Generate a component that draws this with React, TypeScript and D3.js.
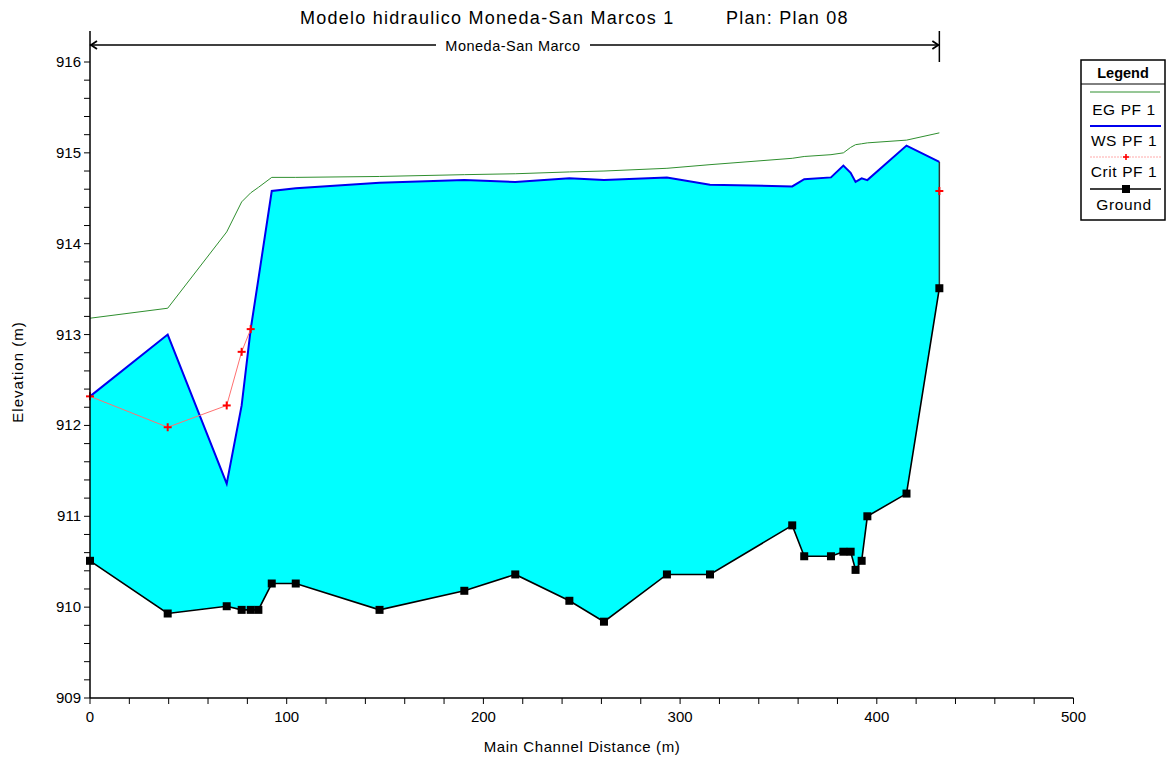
import React from "react";
import * as d3 from "d3";

// ---------- data ----------
const stations = [0, 39.5, 69.5, 77.1, 81.7, 85.6, 92.4, 104.6, 147.2, 190.3, 216.2, 243.7, 261.3, 293.3, 315.2, 357.0, 363.1, 376.7, 383.0, 386.7, 389.2, 392.3, 395.2, 415.1, 431.8];
const ground = [910.51, 909.93, 910.01, 909.97, 909.97, 909.97, 910.26, 910.26, 909.97, 910.18, 910.36, 910.07, 909.84, 910.36, 910.36, 910.90, 910.56, 910.56, 910.61, 910.61, 910.41, 910.51, 911.0, 911.25, 913.51];
const wsPF1 = [912.32, 913.0, 911.36, 912.22, 913.06, 913.61, 914.58, 914.61, 914.67, 914.70, 914.68, 914.72, 914.70, 914.73, 914.65, 914.63, 914.71, 914.73, 914.86, 914.78, 914.68, 914.72, 914.70, 915.08, 914.90];
const egPF1 = [913.18, 913.29, 914.13, 914.46, 914.56, 914.62, 914.73, 914.73, 914.74, 914.76, 914.77, 914.79, 914.80, 914.83, 914.87, 914.94, 914.96, 914.98, 915.0, 915.06, 915.09, 915.10, 915.11, 915.14, 915.22];
const critPF1: (number | null)[] = [912.32, 911.98, 912.22, 912.81, 913.06, null, null, null, null, null, null, null, null, null, null, null, null, null, null, null, null, null, null, null, 914.58];

const xTicks = [0, 100, 200, 300, 400, 500];
const yTicks = [909, 910, 911, 912, 913, 914, 915, 916];
const titleMain = "Modelo hidraulico Moneda-San Marcos 1";
const titlePlan = "Plan: Plan 08";
const reachName = "Moneda-San Marco";
const xLabel = "Main Channel Distance (m)";
const yLabel = "Elevation (m)";
const legendItems = ["EG PF 1", "WS PF 1", "Crit PF 1", "Ground"];

const W = 1166, H = 758;
const FONT = "'Liberation Sans', Arial, sans-serif";

export default function App() {
  const x = d3.scaleLinear().domain([0, 500]).range([90, 1073.5]);
  const y = d3.scaleLinear().domain([909, 916]).range([698, 62]);

  const idx = stations.map((_, i) => i);
  const area = d3.area<number>().x(i => x(stations[i])).y0(i => y(ground[i])).y1(i => y(wsPF1[i]));
  const wsLine = d3.line<number>().x(i => x(stations[i])).y(i => y(wsPF1[i]));
  const egLine = d3.line<number>().x(i => x(stations[i])).y(i => y(egPF1[i]));
  const gLine = d3.line<number>().x(i => x(stations[i])).y(i => y(ground[i]));
  const cLine = d3.line<number>().defined(i => critPF1[i] !== null).x(i => x(stations[i])).y(i => y(critPF1[i] as number));

  const xMinor = d3.range(0, 501, 20);
  const yMinor = d3.range(909, 916.001, 0.2);
  const last = stations.length - 1;
  const xEnd = x(stations[last]);
  const reachY = 45;

  const legX0 = 1081, legX1 = 1165, legY0 = 60;
  const rowY = [92, 126, 157, 189];
  const textY = [115, 146, 177, 210];

  return (
    <svg width={W} height={H} style={{ position: "absolute", left: 0, top: 0, background: "#fff" }} fontFamily={FONT}>
      {/* title */}
      <text x={300} y={24} fontSize={18} letterSpacing={1.25}>{titleMain}</text>
      <text x={726} y={24} fontSize={18} letterSpacing={1.2}>{titlePlan}</text>

      {/* fill */}
      <path d={area(idx) || ""} fill="#00ffff" stroke="none" />
      <line x1={xEnd} x2={xEnd} y1={y(wsPF1[last])} y2={y(ground[last])} stroke="#333" strokeWidth={1.5} />

      {/* EG */}
      <path d={egLine(idx) || ""} fill="none" stroke="#2f8f2f" strokeWidth={1} />
      {/* WS */}
      <path d={wsLine(idx) || ""} fill="none" stroke="#0000ee" strokeWidth={2} />
      {/* Crit */}
      <path d={cLine(idx) || ""} fill="none" stroke="#ff7070" strokeWidth={1} />
      {idx.filter(i => critPF1[i] !== null).map(i => (
        <g key={"c" + i} transform={`translate(${x(stations[i])},${y(critPF1[i] as number)})`} stroke="#ff0000" strokeWidth={2}>
          <line x1={-4} x2={4} y1={0} y2={0} />
          <line x1={0} x2={0} y1={-4} y2={4} />
        </g>
      ))}
      {/* Ground */}
      <path d={gLine(idx) || ""} fill="none" stroke="#000" strokeWidth={1.6} />
      {idx.map(i => (
        <rect key={"g" + i} x={x(stations[i]) - 4} y={y(ground[i]) - 4} width={8} height={8} fill="#000" />
      ))}

      {/* axes */}
      <line x1={90} x2={90} y1={31} y2={698} stroke="#000" strokeWidth={1.5} />
      <line x1={90} x2={x(500)} y1={698} y2={698} stroke="#000" strokeWidth={1.5} />
      {yMinor.map((v, i) => (
        <line key={"ym" + i} x1={84} x2={90} y1={y(v)} y2={y(v)} stroke="#000" strokeWidth={1} />
      ))}
      {yTicks.map(v => (
        <text key={"yt" + v} x={81} y={y(v) + 5} fontSize={15} textAnchor="end">{v}</text>
      ))}
      {xMinor.map(v => (
        <line key={"xm" + v} x1={x(v)} x2={x(v)} y1={698} y2={704} stroke="#000" strokeWidth={1} />
      ))}
      {xTicks.map(v => (
        <text key={"xt" + v} x={x(v)} y={722} fontSize={15} textAnchor="middle">{v}</text>
      ))}
      <text x={582} y={752} fontSize={15} letterSpacing={0.6} textAnchor="middle">{xLabel}</text>
      <text transform="translate(23,372) rotate(-90)" fontSize={15} letterSpacing={1} textAnchor="middle">{yLabel}</text>

      {/* reach annotation */}
      <line x1={90} x2={xEnd} y1={reachY} y2={reachY} stroke="#000" strokeWidth={1.5} />
      <polyline points={`${97},${reachY - 4} ${91},${reachY} ${97},${reachY + 4}`} fill="none" stroke="#000" strokeWidth={1.8} />
      <polyline points={`${xEnd - 7},${reachY - 4} ${xEnd - 1},${reachY} ${xEnd - 7},${reachY + 4}`} fill="none" stroke="#000" strokeWidth={1.8} />
      <line x1={xEnd} x2={xEnd} y1={31} y2={62} stroke="#000" strokeWidth={1.5} />
      <rect x={436} y={36} width={154} height={18} fill="#fff" />
      <text x={513} y={51} fontSize={14.5} letterSpacing={0.5} textAnchor="middle">{reachName}</text>

      {/* legend */}
      <rect x={legX0} y={legY0} width={legX1 - legX0} height={160} fill="#fff" stroke="#000" strokeWidth={1.5} />
      <line x1={legX0} x2={legX1} y1={84} y2={84} stroke="#000" strokeWidth={1} />
      <text x={(legX0 + legX1) / 2} y={78} fontSize={14.5} fontWeight="bold" textAnchor="middle">Legend</text>
      <line x1={1090} x2={1160} y1={rowY[0]} y2={rowY[0]} stroke="#2f8f2f" strokeWidth={1} />
      <line x1={1090} x2={1161} y1={rowY[1]} y2={rowY[1]} stroke="#0000ee" strokeWidth={2} />
      <line x1={1090} x2={1161} y1={rowY[2]} y2={rowY[2]} stroke="#ffaaaa" strokeWidth={1} strokeDasharray="2,1" />
      <g transform={`translate(1126,${rowY[2]})`} stroke="#ff0000" strokeWidth={1.6}>
        <line x1={-3} x2={3} y1={0} y2={0} />
        <line x1={0} x2={0} y1={-3} y2={3} />
      </g>
      <line x1={1090} x2={1161} y1={rowY[3]} y2={rowY[3]} stroke="#000" strokeWidth={1.5} />
      <rect x={1122} y={rowY[3] - 4} width={8} height={8} fill="#000" />
      {legendItems.map((t, i) => (
        <text key={t} x={1124} y={textY[i]} fontSize={15.5} textAnchor="middle" letterSpacing={0.6}>{t}</text>
      ))}
    </svg>
  );
}
